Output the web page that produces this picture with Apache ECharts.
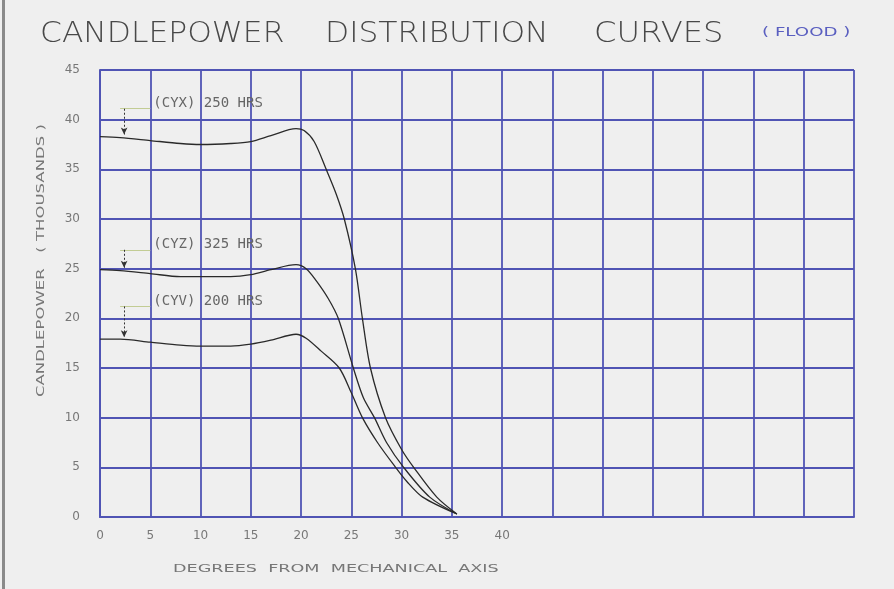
<!DOCTYPE html>
<html>
<head>
<meta charset="utf-8">
<script src="https://cdn.jsdelivr.net/npm/echarts@6/dist/echarts.min.js"></script>
<style>
html, body { margin: 0; padding: 0; background: #efefef; }
#chart { width: 894px; height: 589px; }
</style>
</head>
<body>
<div id="chart"></div>
<script>
// values: [degrees, candlepower in thousands]
var cyx250 = [[0, 38.3], [2, 38.2], [5, 37.9], [8, 37.6], [10, 37.5], [13, 37.6], [15, 37.8], [17, 38.4],
    [19.5, 39.1], [20.3, 38.9], [21.3, 37.8], [22.5, 35], [23.5, 32.5], [24.3, 30], [25.4, 25], [26.1, 20],
    [26.9, 15], [28.4, 10], [30, 6.8], [31.2, 5], [33.5, 2], [35.5, 0.3]];
var cyz325 = [[0, 24.9], [2, 24.8], [5, 24.5], [8, 24.2], [10, 24.2], [13, 24.2], [15, 24.4], [17, 24.9],
    [19.5, 25.4], [20.5, 25.0], [21.5, 23.8], [22.7, 22], [23.7, 20], [25.2, 15], [26.2, 12], [27.3, 10],
    [28.5, 7.5], [30.2, 5], [32.8, 2], [35.5, 0.3]];
var cyv200 = [[0, 17.9], [2, 17.9], [5, 17.6], [8, 17.3], [10, 17.2], [13, 17.2], [15, 17.4], [17, 17.8],
    [19.5, 18.4], [20.5, 18.0], [22, 16.7], [23.8, 15], [25, 12.5], [26.1, 10], [27.6, 7.5], [29.4, 5],
    [30.5, 3.6], [32.1, 2], [35.5, 0.3]];

var seriesNames = ['(CYX) 250 HRS', '(CYZ) 325 HRS', '(CYV) 200 HRS'];
// callout: leader height and the point on the curve it points at
var calloutY = [41.1, 26.9, 21.2];
var calloutHit = [38.3, 24.9, 17.9];

var xLabelMax = 40;

var dom = document.getElementById('chart');
var myChart = echarts.init(dom);

function callout(i) {
    var lineCol = '#c2cc94';
    return {
        markLine: {
            silent: true,
            animation: false,
            label: { show: false },
            data: [
                [
                    { coord: [2.0, calloutY[i]], symbol: 'none', lineStyle: { color: lineCol, width: 1, type: 'solid' } },
                    { coord: [5.0, calloutY[i]], symbol: 'none' }
                ],
                [
                    { coord: [2.4, calloutY[i]], symbol: 'none', lineStyle: { color: '#333', width: 1, type: [2, 2] } },
                    { coord: [2.4, calloutHit[i] + 0.2], symbol: 'arrow', symbolSize: [5, 7] }
                ]
            ]
        },
        markPoint: {
            silent: true,
            animation: false,
            data: [{
                coord: [5.2, calloutY[i] + 0.5],
                symbol: 'circle',
                symbolSize: 0,
                label: {
                    show: true,
                    position: 'right',
                    distance: 1,
                    formatter: seriesNames[i],
                    color: '#666',
                    fontSize: 14,
                    fontFamily: 'DejaVu Sans Mono'
                }
            }]
        }
    };
}

function curve(i, data) {
    var s = {
        name: seriesNames[i],
        type: 'line',
        data: data,
        smooth: 0.3,
        showSymbol: false,
        lineStyle: { color: '#2a2a2a', width: 1.3 },
        animation: false
    };
    var c = callout(i);
    s.markLine = c.markLine;
    s.markPoint = c.markPoint;
    return s;
}

var gridCol = '#5054b4';

var option = {
    backgroundColor: '#efefef',
    grid: { left: 100, right: 40, top: 70, bottom: 72 },
    xAxis: {
        type: 'value',
        min: 0,
        max: 75,
        interval: 5,
        axisLine: { show: true, lineStyle: { color: gridCol, width: 2 } },
        axisTick: { show: false },
        splitLine: { show: true, lineStyle: { color: gridCol, width: 1.8 } },
        axisLabel: {
            margin: 13,
            color: '#777',
            fontSize: 12,
            fontFamily: 'DejaVu Sans',
            formatter: function (v) { return v <= xLabelMax ? String(v) : ''; }
        }
    },
    yAxis: {
        type: 'value',
        min: 0,
        max: 45,
        interval: 5,
        axisLine: { show: true, lineStyle: { color: gridCol, width: 2 } },
        axisTick: { show: false },
        splitLine: { show: true, lineStyle: { color: gridCol, width: 1.8 } },
        axisLabel: { margin: 20, color: '#777', fontSize: 12, fontFamily: 'DejaVu Sans' }
    },
    graphic: [
        { type: 'rect', left: 2, top: 0, shape: { width: 3, height: 589 }, style: { fill: '#8a8a8a' } },
        { type: 'text', x: 40, y: 21, scaleX: 1.12, style: { text: 'CANDLEPOWER', fill: '#484848', font: '200 28px "DejaVu Sans"' } },
        { type: 'text', x: 325, y: 21, scaleX: 1.12, style: { text: 'DISTRIBUTION', fill: '#484848', font: '200 28px "DejaVu Sans"' } },
        { type: 'text', x: 594, y: 21, scaleX: 1.15, style: { text: 'CURVES', fill: '#484848', font: '200 28px "DejaVu Sans"' } },
        { type: 'text', x: 762, y: 26, scaleX: 1.4, style: { text: '( FLOOD )', fill: '#5a5fc0', font: '13px "DejaVu Sans"' } },
        { type: 'text', x: 36, y: 397, rotation: Math.PI / 2, scaleX: 1.5,
          style: { text: 'CANDLEPOWER   ( THOUSANDS )', fill: '#777', font: '11px "DejaVu Sans"' } },
        { type: 'text', x: 173, y: 564, scaleX: 1.6, style: { text: 'DEGREES  FROM  MECHANICAL  AXIS', fill: '#777', font: '11px "DejaVu Sans"' } }
    ],
    series: [
        curve(0, cyx250),
        curve(1, cyz325),
        curve(2, cyv200)
    ]
};

myChart.setOption(option);
window.onresize = myChart.resize;
</script>
</body>
</html>
